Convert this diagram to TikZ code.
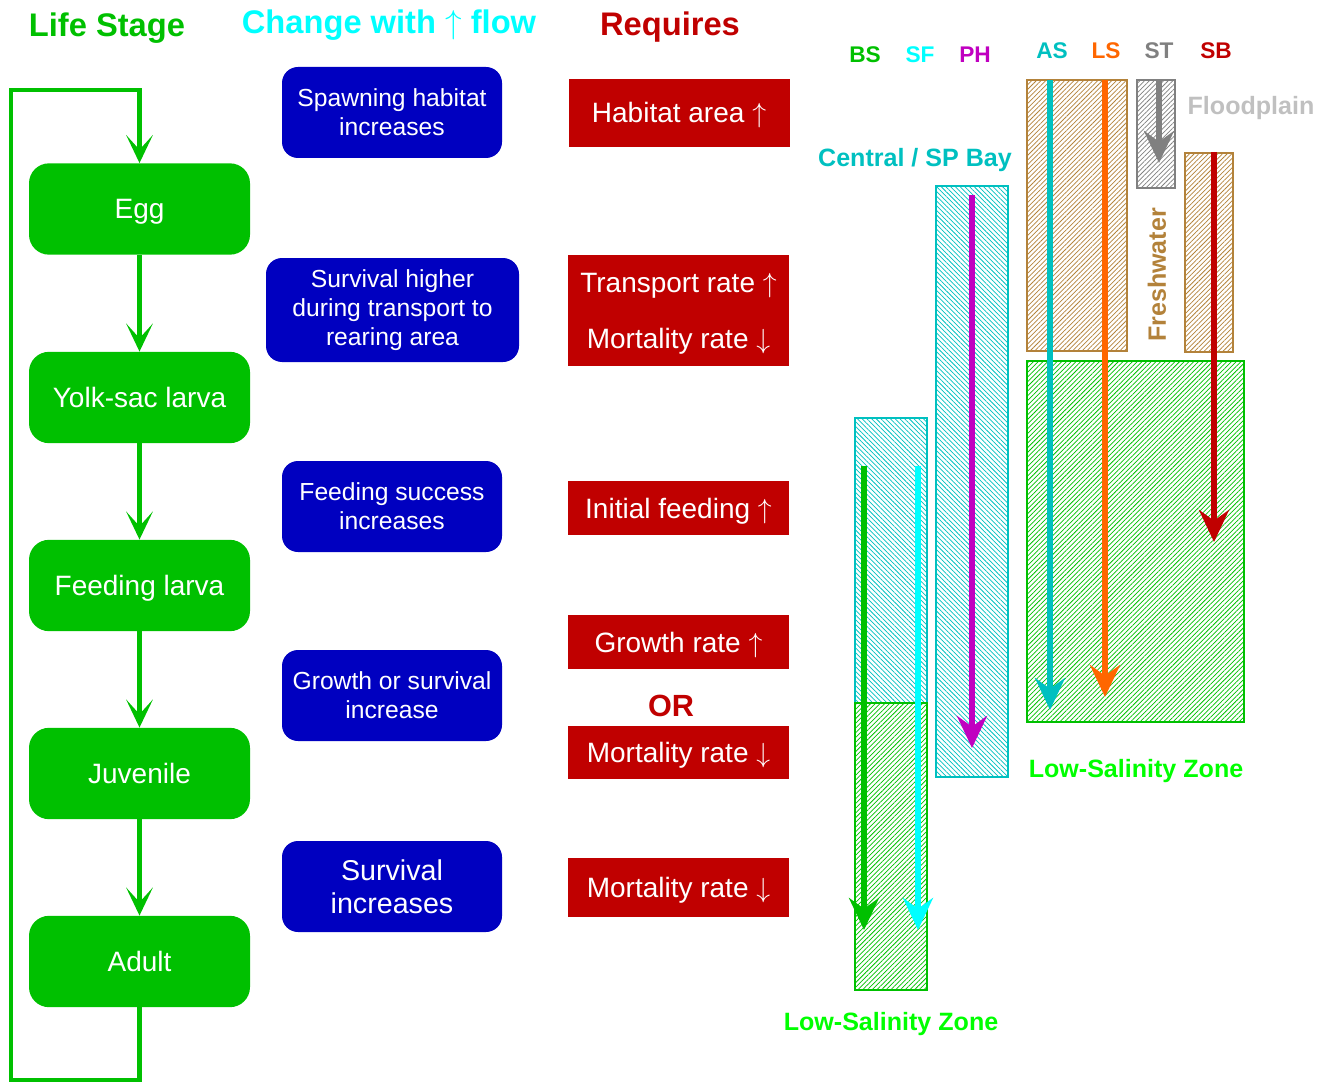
\documentclass[tikz,border=0pt]{standalone}
\usepackage{fontspec}
\setmainfont{Liberation Sans}
\usetikzlibrary{arrows.meta,patterns.meta}

\definecolor{stagegreen}{HTML}{00C000}
\definecolor{effblue}{HTML}{0000C0}
\definecolor{reqred}{HTML}{C00000}
\definecolor{lszgreen}{HTML}{00FF00}
\definecolor{flowcyan}{HTML}{00FFFF}
\definecolor{teal}{HTML}{00C0C0}
\definecolor{lsorange}{HTML}{FF6600}
\definecolor{stgray}{HTML}{808080}
\definecolor{fpgray}{HTML}{C0C0C0}
\definecolor{phmag}{HTML}{C000C0}
\definecolor{fwbrown}{HTML}{B3823A}

% thin tall arrows used in the labels
\newcommand{\flowup}{\ensuremath{\uparrow}}
\newcommand{\flowdown}{\ensuremath{\downarrow}}

\begin{document}
\begin{tikzpicture}[x=0.75pt,y=-0.75pt,
  stage/.style={rectangle, rounded corners=15pt, fill=stagegreen, text=white,
    minimum width=165.75pt, minimum height=68.5pt, inner sep=0pt,
    text height=15pt, text depth=0pt,
    font=\fontsize{21}{24}\selectfont},
  effect/.style={rectangle, rounded corners=12pt, fill=effblue, text=white,
    minimum width=165pt, minimum height=68.25pt, inner sep=0pt, align=center,
    font=\fontsize{18.5}{22}\selectfont},
  req/.style={rectangle, fill=reqred, text=white, minimum width=165.75pt,
    inner sep=0pt, text height=15pt, text depth=0pt,
    font=\fontsize{21}{24}\selectfont},
  header/.style={font=\bfseries\fontsize{24.5}{28}\selectfont},
  taxon/.style={font=\bfseries\fontsize{17}{20}\selectfont},
  zonelabel/.style={font=\bfseries\fontsize{18.8}{22}\selectfont},
  flow/.style={draw=stagegreen, line width=3.4pt,
    -{Stealth[length=21pt,width=20pt,inset=11pt]}},
  route/.style={line width=3.8pt,
    -{Stealth[length=24pt,width=22.5pt,inset=8pt]}},
  zone/.style={line width=1.1pt},
  fwd/.style={pattern={Lines[angle=45,distance=2.5pt,line width=0.55pt]}},
  bwd/.style={pattern={Lines[angle=-45,distance=2.5pt,line width=0.55pt]}},
]
\useasboundingbox (0,0) rectangle (1330,1084);

% ---------- column headers ----------
\node[header, text=stagegreen] (hstage) at (107,28) {Life Stage};
\node[header, text=flowcyan] (hchange) at (389,25) {Change with \flowup{} flow};
\node[header, text=reqred] (hreq) at (670,27) {Requires};

% ---------- life stages ----------
\node[stage] (egg)   at (139.5,209)   {Egg};
\node[stage] (yolk)  at (139.5,397.5) {Yolk-sac larva};
\node[stage] (feed)  at (139.5,585.5) {Feeding larva};
\node[stage] (juv)   at (139.5,773.5) {Juvenile};
\node[stage] (adult) at (139.5,961.5) {Adult};

\draw[flow] (egg) -- (yolk);
\draw[flow] (yolk) -- (feed);
\draw[flow] (feed) -- (juv);
\draw[flow] (juv) -- (adult);

% return loop from adult back to egg
\coordinate (loopbl) at (11,1080);
\coordinate (looptl) at (11,90);
\draw[flow, line join=miter] (adult.south) -- (adult.south |- loopbl) -- (loopbl)
  -- (looptl) -- (egg.north |- looptl) -- (egg.north);

% ---------- responses to flow ----------
\node[effect] (spawn) at (392,112.5) {Spawning habitat\\increases};
\node[effect, minimum width=189.75pt, minimum height=78pt] (transp) at (392.5,310)
  {Survival higher\\during transport to\\rearing area};
\node[effect] (fsucc) at (392,506.5) {Feeding success\\increases};
\node[effect] (gsurv) at (392,695.5) {Growth or survival\\increase};
\node[effect, font=\fontsize{21.5}{25}\selectfont] (surv) at (392,886.5)
  {Survival\\increases};

% ---------- requirements ----------
\node[req, minimum height=51pt] (habarea) at (679,113) {Habitat area \flowup};
\node[req, minimum height=41.25pt] (trate) at (678.5,282.5) {Transport rate \flowup};
\node[req, minimum height=42pt] (mrate1) at (678.5,338) {Mortality rate \flowdown};
\node[req, minimum height=40.5pt] (ifeed) at (678.5,508) {Initial feeding \flowup};
\node[req, minimum height=40.5pt] (grate) at (678.5,642) {Growth rate \flowup};
\node[font=\bfseries\fontsize{23}{26}\selectfont, text=reqred] (orlbl) at (671,706) {OR};
\node[req, minimum height=39.75pt] (mrate2) at (678.5,752.5) {Mortality rate \flowdown};
\node[req, minimum height=44.25pt] (mrate3) at (678.5,887.5) {Mortality rate \flowdown};

% ---------- habitat zones ----------
% Central / SP Bay reaches
\path[zone, draw=teal, bwd, pattern color=teal] (855,418) rectangle (927,703);
\path[zone, draw=stagegreen, fwd, pattern color=stagegreen] (855,703) rectangle (927,990);
\path[zone, draw=teal, bwd, pattern color=teal] (936,186) rectangle (1008,777);
% freshwater reaches
\path[zone, draw=fwbrown, fwd, pattern color=fwbrown] (1027,80) rectangle (1127,351);
\path[zone, draw=stgray, fwd, pattern color=stgray] (1137,80) rectangle (1175,188);
\path[zone, draw=fwbrown, fwd, pattern color=fwbrown] (1185,153) rectangle (1233,352);
% low-salinity zone
\path[zone, draw=stagegreen, fwd, pattern color=stagegreen] (1027,361) rectangle (1244,722);

% ---------- migration routes ----------
\coordinate (bs0) at (864,466);  \coordinate (bs1) at (864,930);
\coordinate (sf0) at (918,466);  \coordinate (sf1) at (918,930);
\coordinate (ph0) at (972,195);  \coordinate (ph1) at (972,748);
\coordinate (as0) at (1050,80);  \coordinate (as1) at (1050,710);
\coordinate (ls0) at (1105,80);  \coordinate (ls1) at (1105,697);
\coordinate (st0) at (1159,80);  \coordinate (st1) at (1159,163);
\coordinate (sb0) at (1214,152); \coordinate (sb1) at (1214,542);

\draw[route, draw=stagegreen, fill=stagegreen] (bs0) -- (bs1);
\draw[route, draw=flowcyan, fill=flowcyan] (sf0) -- (sf1);
\draw[route, draw=phmag, fill=phmag] (ph0) -- (ph1);
\draw[route, draw=teal, fill=teal] (as0) -- (as1);
\draw[route, draw=lsorange, fill=lsorange] (ls0) -- (ls1);
\draw[route, draw=stgray, fill=stgray] (st0) -- (st1);
\draw[route, draw=reqred, fill=reqred] (sb0) -- (sb1);

% ---------- route and zone labels ----------
\node[taxon, text=stagegreen] (lbs) at (865,55) {BS};
\node[taxon, text=flowcyan]   (lsf) at (920,55) {SF};
\node[taxon, text=phmag]      (lph) at (975,55) {PH};
\node[taxon, text=teal]       (las) at (1052,51) {AS};
\node[taxon, text=lsorange]   (lls) at (1106,51) {LS};
\node[taxon, text=stgray]     (lst) at (1159,51) {ST};
\node[taxon, text=reqred]     (lsb) at (1216,51) {SB};

\node[zonelabel, text=fpgray] (lfp) at (1251,108) {Floodplain};
\node[zonelabel, text=teal] (lbay) at (915,160) {Central / SP Bay};
\node[zonelabel, text=fwbrown, rotate=90] (lfw) at (1157,275) {Freshwater};
\node[zonelabel, text=lszgreen] (llsz1) at (1136,771) {Low-Salinity Zone};
\node[zonelabel, text=lszgreen] (llsz2) at (891,1024) {Low-Salinity Zone};
\end{tikzpicture}
\end{document}
